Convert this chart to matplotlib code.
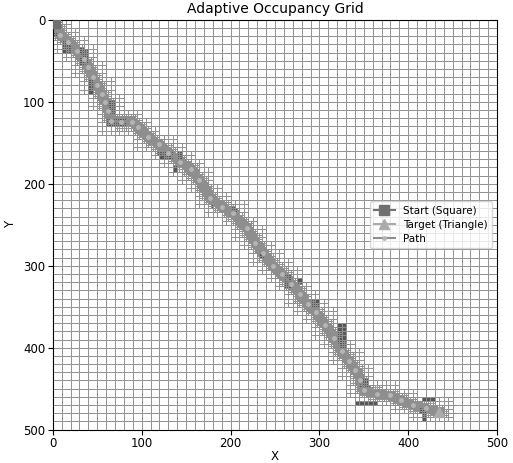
import numpy as np
import matplotlib
matplotlib.use("Agg")
import matplotlib.pyplot as plt
from matplotlib.collections import LineCollection, PatchCollection
from matplotlib.patches import Rectangle

# Planned path waypoints (world units)
path_x = [2, 8, 17, 27, 35, 40, 45, 50, 55, 59, 62, 66, 77, 89, 96, 107, 119, 130,
          143, 155, 165, 177, 190, 203, 218, 228, 236, 248, 258, 268, 278, 287, 296,
          306, 316, 325, 333, 340, 346, 350, 365, 380, 392, 405, 420, 435]
path_y = [4, 18, 27, 38, 48, 58, 70, 80, 90, 100, 111, 123, 124, 124, 131, 143, 152, 162,
          173, 182, 195, 217, 228, 236, 254, 272, 284, 300, 310, 322, 335, 347, 357,
          372, 388, 404, 416, 427, 440, 452, 456, 458, 464, 470, 474, 478]

# Occupied obstacle regions (x0, y0, x1, y1)
obstacles = [
    (0, 14, 5, 19), (11, 24, 19, 39), (30, 33, 40, 54), (39, 73, 45, 88),
    (59, 97, 70, 115), (61, 121, 83, 130), (118, 161, 134, 170), (140, 160, 145, 172),
    (133, 177, 139, 184), (177, 226, 181, 232), (201, 228, 207, 234), (233, 286, 237, 290),
    (261, 311, 267, 327), (275, 313, 280, 323), (289, 341, 301, 349), (320, 371, 331, 400),
    (346, 438, 357, 448), (342, 464, 365, 480), (413, 472, 421, 488), (417, 460, 428, 466),
]

world_size = 500
base_cell = 10
ticks = [0, 100, 200, 300, 400, 500]

# Dense samples of the path polyline for distance queries
px, py = np.asarray(path_x, float), np.asarray(path_y, float)
samples = []
for i in range(len(px) - 1):
    n = int(np.hypot(px[i + 1] - px[i], py[i + 1] - py[i])) + 2
    t = np.linspace(0, 1, n)
    samples.append(np.column_stack([px[i] + t * (px[i + 1] - px[i]),
                                    py[i] + t * (py[i + 1] - py[i])]))
samples = np.vstack(samples)


def dist_to_path(x, y):
    return np.min(np.hypot(samples[:, 0] - x, samples[:, 1] - y))


def in_obstacle(x, y):
    return any(x0 <= x <= x1 and y0 <= y <= y1 for x0, y0, x1, y1 in obstacles)


# Build an adaptive quadtree: cells near the path are refined
leaves = []


def refine(x, y, s, depth):
    cx, cy = x + s / 2, y + s / 2
    d = dist_to_path(cx, cy)
    limit = {0: 17, 1: 9}.get(depth, 0)
    if depth < 2 and d < limit:
        h = s / 2
        for dx in (0, h):
            for dy in (0, h):
                refine(x + dx, y + dy, h, depth + 1)
    else:
        leaves.append((x, y, s, d))


for gx in range(0, world_size, base_cell):
    for gy in range(0, world_size, base_cell):
        refine(gx, gy, base_cell, 0)

plt.rcParams["font.size"] = 9
fig = plt.figure(figsize=(5.13, 4.63), dpi=100)
ax = fig.add_axes([0.103, 0.072, 0.866, 0.885])

path_cells, obst_cells = [], []
edges = set()
for x, y, s, d in leaves:
    cx, cy = x + s / 2, y + s / 2
    if s < base_cell and in_obstacle(cx, cy):
        obst_cells.append(Rectangle((x, y), s, s))
    elif d < 6:
        path_cells.append(Rectangle((x, y), s, s))
    for seg in (((x, y), (x + s, y)), ((x, y + s), (x + s, y + s)),
                ((x, y), (x, y + s)), ((x + s, y), (x + s, y + s))):
        edges.add(seg)

ax.add_collection(PatchCollection(path_cells, facecolor="#8e8e8e", edgecolor="none", zorder=1))
ax.add_collection(PatchCollection(obst_cells, facecolor="#3a3a3a", edgecolor="none",
                                  alpha=0.85, zorder=1))
ax.add_collection(LineCollection([list(e) for e in edges], colors="#909090",
                                 linewidths=0.7, zorder=2))

ax.plot(path_x, path_y, "-o", color="#8e8e8e", lw=1.5, markersize=2.5,
        markerfacecolor="#b5b5b5", markeredgecolor="#b5b5b5", zorder=3, label="Path")
ax.plot([path_x[0]], [path_y[0]], "s-", color="#707070", markersize=7, zorder=4,
        label="Start (Square)")
ax.plot([path_x[-1]], [path_y[-1]], "^-", color="#ababab", markersize=7, zorder=4,
        label="Target (Triangle)")

ax.set_xlim(0, world_size)
ax.set_ylim(world_size, 0)
ax.set_xticks(ticks)
ax.set_yticks(ticks)
ax.tick_params(labelsize=8.5, length=3.5, pad=2)
ax.set_xlabel("X", fontsize=8.5, labelpad=-0.5)
ax.set_ylabel("Y", fontsize=8.5, labelpad=4)
ax.set_title("Adaptive Occupancy Grid", fontsize=10, pad=5)

handles, labels = ax.get_legend_handles_labels()
order = [1, 2, 0]
ax.legend([handles[i] for i in order], [labels[i] for i in order], loc="center right",
          fontsize=7.5, handlelength=2.0, borderpad=0.4, labelspacing=0.4)

fig.savefig("out.png", dpi=100)
